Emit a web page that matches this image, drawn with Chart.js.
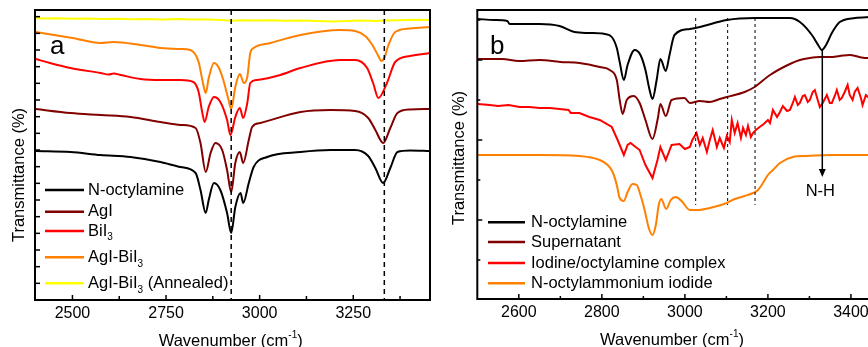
<!DOCTYPE html>
<html><head><meta charset="utf-8">
<script src="https://cdn.jsdelivr.net/npm/chart.js@4.4.1/dist/chart.umd.min.js"></script>
<style>
html,body{margin:0;padding:0;background:#fff;overflow:hidden;width:868px;height:347px;}
#wa{position:absolute;left:0;top:0;width:440px;height:347px;}
#wb{position:absolute;left:440px;top:0;width:440px;height:347px;}
</style></head><body>
<div id="wa"><canvas id="ca" width="440" height="347"></canvas></div>
<div id="wb"><canvas id="cb" width="440" height="347"></canvas></div>
<script>
// ---------- Panel a data: [wavenumber, transmittance (offset, a.u.)] ----------
const aOctylamine = [[2402,149],[2495,148],[2575,145],[2655,143],[2735,138],[2789,133],[2829,127],[2842,110],[2856,87],[2864,100],[2878,117],[2895,110],[2913,87],[2924,67],[2935,93],[2949,107],[2956,97],[2971,117],[2984,133],[3020,143],[3109,148],[3189,150],[3255,150],[3290,144],[3309,132],[3330,117],[3349,132],[3368,148],[3402,149.5],[3455,149]];
const aAgI = [[2402,191],[2495,187],[2575,185],[2655,183],[2735,178],[2789,175],[2829,172],[2842,157],[2856,128],[2869,147],[2882,157],[2900,150],[2913,130],[2924,108],[2935,137],[2947,148],[2956,137],[2971,160],[2980,173],[3002,177],[3109,188],[3189,190],[3255,189],[3290,182],[3309,170],[3330,157],[3349,172],[3368,187],[3402,190.5],[3455,191]];
const aBiI3 = [[2402,241],[2440,237],[2495,232],[2575,227],[2597,225.5],[2610,226.5],[2629,225],[2682,221],[2735,220],[2789,220],[2823,218],[2837,208],[2847,187],[2853,178],[2864,193],[2878,203],[2895,198],[2913,180],[2922,165],[2935,183],[2947,192],[2956,182],[2967,197],[2975,217],[2993,220],[3055,225],[3109,232],[3215,240],[3255,240],[3287,232],[3303,217],[3317,202],[3340,217],[3362,238],[3402,244],[3455,247]];
const aAgIBiI3 = [[2402,268],[2500,262],[2575,257],[2610,258],[2682,255],[2735,252],[2789,251],[2815,250],[2837,238],[2847,220],[2856,207],[2864,222],[2878,237],[2890,233],[2903,220],[2917,200],[2924,191],[2935,213],[2947,226],[2958,217],[2967,223],[2975,247],[2984,252],[3029,257],[3109,265],[3215,270],[3255,269],[3282,264],[3301,255],[3317,244],[3325,239],[3333,242],[3344,255],[3362,268],[3402,271.5],[3455,273]];
const aAnnealed = [[2402,281.7],[2430,281.5],[2460,281.8],[2500,281.3],[2540,281.6],[2580,281],[2620,281.3],[2660,280.8],[2700,281],[2740,280.6],[2780,280.9],[2820,280.4],[2860,280.6],[2900,280],[2924,279.3],[2950,279.8],[2990,279.5],[3030,279.8],[3070,279.2],[3110,279.5],[3150,278.9],[3197,278.4],[3230,279],[3270,279.4],[3310,279.1],[3333,279.5],[3370,279.8],[3410,280.2],[3455,280]];
const labelsA = ['N-octylamine','AgI','BiI_{3}','AgI-BiI_{3}','AgI-BiI_{3} (Annealed)'];
const colorsA = ['#000000','#800000','#ff0000','#ff8000','#ffff00'];
const majorTicksA = [2500,2750,3000,3250];
const minorTicksA = [2625,2875,3125,3375];
const dashLinesA = [2924,3333];

// ---------- Panel b data ----------
const bOctylamine = [[2501,280],[2541,279],[2572,278],[2578,275],[2650,275],[2698,273],[2734,267],[2770,266],[2807,265],[2824,262],[2836,251],[2843,237],[2853,219],[2862,234],[2879,249],[2893,244],[2905,229],[2915,209],[2922,200],[2932,219],[2941,240],[2954,228],[2963,244],[2975,264],[3012,270],[3036,272],[3101,279],[3168,281],[3253,281],[3277,277],[3306,264],[3321,254],[3330,249],[3340,254],[3354,266],[3373,277],[3410,281],[3450,282]];
const bSupernatant = [[2501,240],[2560,240],[2600,238],[2650,239],[2700,237],[2746,236],[2795,232],[2819,229],[2836,219],[2843,199],[2850,185],[2860,199],[2877,203],[2891,196],[2905,179],[2922,160],[2935,181],[2941,195],[2954,183],[2968,199],[2999,201],[3012,196],[3036,198],[3060,197],[3084,200],[3101,202],[3144,207],[3168,212],[3205,224],[3253,235],[3277,239],[3301,241],[3325,242],[3349,242],[3373,243],[3397,244],[3420,242],[3441,241],[3450,242]];
const bComplex = [[2501,195],[2530,194],[2550,193],[2575,194],[2602,192],[2625,192],[2650,191],[2675,191],[2698,190],[2720,189],[2725,186],[2746,186],[2770,182],[2795,179],[2824,172],[2838,159],[2853,144],[2862,154],[2869,156],[2891,149],[2905,134],[2922,121],[2934,139],[2941,152],[2954,139],[2968,154],[2987,155],[3000,150],[3012,152],[3018,159],[3028,166],[3036,154],[3043,161],[3053,147],[3060,159],[3067,169],[3077,152],[3084,161],[3094,151],[3101,163],[3108,157],[3113,179],[3120,166],[3127,176],[3135,161],[3140,171],[3147,164],[3152,173],[3159,162],[3164,166],[3171,169],[3180,172],[3190,175],[3200,179],[3205,176],[3212,189],[3222,182],[3229,187],[3236,193],[3246,188],[3253,189],[3260,196],[3265,202],[3272,194],[3277,196],[3284,203],[3289,204],[3296,197],[3301,199],[3308,207],[3313,209],[3320,199],[3325,192],[3332,196],[3342,204],[3349,196],[3354,196],[3361,203],[3366,209],[3373,199],[3378,201],[3385,207],[3392,214],[3397,204],[3404,199],[3409,207],[3416,211],[3424,201],[3428,194],[3436,204],[3441,202],[3450,199]];
const bAmmonium = [[2501,144],[2650,144],[2746,143],[2795,139],[2814,134],[2826,127],[2836,114],[2843,101],[2853,98],[2862,107],[2874,115],[2884,114],[2893,104],[2903,89],[2913,71],[2922,64],[2930,74],[2937,94],[2943,100],[2955,90],[2966,99],[2978,102],[2992,98],[3012,89],[3029,89],[3060,91],[3101,96],[3120,100],[3144,103],[3164,106],[3176,109],[3188,116],[3200,124],[3212,129],[3229,136],[3260,142],[3294,143],[3349,144],[3450,144]];
const labelsB = ['N-octylamine','Supernatant','Iodine/octylamine complex','N-octylammonium iodide'];
const colorsB = ['#000000','#800000','#ff0000','#ff8000'];
const majorTicksB = [2600,2800,3000,3200,3400];
const minorTicksB = [2700,2900,3100,3300];
const dashLinesB = [3026,3103,3169];
const nhPeak = [3331, 249, 122]; // wavenumber, arrow start, arrow end
const nhLabel = 'N-H';

const FONT = '"Liberation Sans", Arial, Helvetica, sans-serif';

function drawRich(ctx, str, x, y, size, align) {
  const parts = [];
  const re = /(_|\^)\{([^}]*)\}/g;
  let last = 0, m;
  while ((m = re.exec(str))) {
    if (m.index > last) parts.push({t: str.slice(last, m.index), k: 0});
    parts.push({t: m[2], k: m[1] === '_' ? 1 : -1});
    last = re.lastIndex;
  }
  if (last < str.length) parts.push({t: str.slice(last), k: 0});
  const small = Math.round(size * 0.58);
  const f = k => (k ? small : size) + 'px ' + FONT;
  let w = 0;
  for (const p of parts) { ctx.font = f(p.k); p.w = ctx.measureText(p.t).width; w += p.w; }
  let cx = align === 'center' ? x - w / 2 : x;
  ctx.textBaseline = 'middle'; ctx.textAlign = 'left'; ctx.fillStyle = '#000';
  for (const p of parts) {
    ctx.font = f(p.k);
    const dy = p.k === 1 ? size * 0.4 : (p.k === -1 ? -size * 0.35 : 0);
    ctx.fillText(p.t, cx, y + dy);
    cx += p.w;
  }
}

const deco = {
  id: 'deco',
  afterDatasetsDraw(chart, args, o) {
    const {ctx, chartArea: ca} = chart;
    const xs = chart.scales.x, ys = chart.scales.y;
    ctx.save();
    // dashed reference lines
    ctx.strokeStyle = '#000'; ctx.lineWidth = o.dashWidth; ctx.setLineDash(o.dash);
    for (const d of o.dashes) {
      const px = xs.getPixelForValue(d);
      const y0 = ca.top + (o.dashTopGap || 0);
      const y1 = o.dashBottom != null ? ys.getPixelForValue(o.dashBottom) : ca.bottom;
      ctx.beginPath(); ctx.moveTo(px, y0); ctx.lineTo(px, y1); ctx.stroke();
    }
    ctx.setLineDash([]);
    // arrow
    if (o.arrow) {
      const px = xs.getPixelForValue(o.arrow[0]);
      const y0 = ys.getPixelForValue(o.arrow[1]);
      const y1 = ys.getPixelForValue(o.arrow[2]);
      ctx.lineWidth = 1.5; ctx.strokeStyle = '#000';
      ctx.beginPath(); ctx.moveTo(px, y0); ctx.lineTo(px, y1 - 6); ctx.stroke();
      ctx.fillStyle = '#000';
      ctx.beginPath(); ctx.moveTo(px - 3.5, y1 - 8); ctx.lineTo(px + 3.5, y1 - 8); ctx.lineTo(px, y1); ctx.closePath(); ctx.fill();
      drawRich(ctx, o.arrowLabel, px - 2, y1 + 14, 16.5, 'center');
    }
    // frame
    ctx.lineWidth = 2; ctx.strokeStyle = '#000';
    ctx.strokeRect(ca.left, ca.top, ca.right - ca.left, ca.bottom - ca.top);
    // tick marks (inward)
    ctx.lineWidth = 1.5;
    for (const t of o.xMajor) { const px = xs.getPixelForValue(t); ctx.beginPath(); ctx.moveTo(px, ca.bottom); ctx.lineTo(px, ca.bottom - 5); ctx.stroke(); }
    for (const t of o.xMinor) { const px = xs.getPixelForValue(t); ctx.beginPath(); ctx.moveTo(px, ca.bottom); ctx.lineTo(px, ca.bottom - o.minorLen); ctx.stroke(); }
    for (const t of o.yTicks) { const py = ys.getPixelForValue(t[0]); ctx.beginPath(); ctx.moveTo(ca.left, py); ctx.lineTo(ca.left + t[1], py); ctx.stroke(); }
    // panel letter
    ctx.fillStyle = '#000'; ctx.font = '26px ' + FONT; ctx.textAlign = 'left'; ctx.textBaseline = 'alphabetic';
    ctx.fillText(o.letter, o.letterPos[0], o.letterPos[1]);
    // legend
    o.labels.forEach((lab, i) => {
      const y = o.legendY[i];
      ctx.strokeStyle = o.colors[i]; ctx.lineWidth = 2.5;
      ctx.beginPath(); ctx.moveTo(o.legendX[0], y); ctx.lineTo(o.legendX[1], y); ctx.stroke();
      drawRich(ctx, lab, o.legendX[2], y, 16.5, 'left');
    });
    // axis titles
    drawRich(ctx, 'Wavenumber (cm^{-1})', o.xTitle[0], o.xTitle[1], 16.5, 'center');
    ctx.save(); ctx.translate(o.yTitle[0], o.yTitle[1]); ctx.rotate(-Math.PI / 2);
    drawRich(ctx, 'Transmittance (%)', 0, 0, 16.5, 'center');
    ctx.restore();
    ctx.restore();
  }
};

function ds(arr, color, smooth) {
  return {data: arr.map(([x, y]) => ({x, y})), borderColor: color, borderWidth: 2, pointRadius: 0, fill: false,
          tension: smooth ? 0.4 : 0, cubicInterpolationMode: smooth ? 'monotone' : 'default'};
}

function makeChart(id, datasets, o) {
  return new Chart(document.getElementById(id), {
    type: 'line',
    data: {datasets},
    plugins: [deco],
    options: {
      responsive: false, animation: false, devicePixelRatio: 1,
      layout: {padding: o.padding},
      plugins: {legend: {display: false}, tooltip: {enabled: false}, deco: o.deco},
      scales: {
        x: {type: 'linear', min: o.xmin, max: o.xmax,
            grid: {display: false, drawTicks: false}, border: {display: false},
            afterBuildTicks: s => { s.ticks = o.deco.xMajor.map(v => ({value: v})); },
            afterFit: s => { s.height = o.xh; },
            ticks: {padding: 4, color: '#000', font: {family: FONT, size: 16}, callback: v => String(v)}},
        y: {type: 'linear', min: 0, max: o.ymax,
            grid: {display: false, drawTicks: false}, border: {display: false},
            ticks: {display: false},
            afterFit: s => { s.width = o.yw; }}
      }
    }
  });
}

// y tick marks
const yTicksA = [];
for (let i = 1; i <= 17; i++) yTicksA.push([i * 290 / 17.4, 5]);
const yTicksB = [[39,3],[79,5],[119,3],[159,5],[199,3],[239,5],[279,3]];

makeChart('ca', [
  ds(aOctylamine, colorsA[0], true), ds(aAgI, colorsA[1], true), ds(aBiI3, colorsA[2], true),
  ds(aAgIBiI3, colorsA[3], true), ds(aAnnealed, colorsA[4], false)
], {
  padding: {left: 0, top: 10, right: 10, bottom: 0}, xmin: 2400, xmax: 3455, ymax: 290, xh: 47, yw: 35,
  deco: {dashes: dashLinesA, dash: [5, 4], dashWidth: 1.5, xMajor: majorTicksA, xMinor: minorTicksA, minorLen: 4,
         yTicks: yTicksA, letter: 'a', letterPos: [50, 53.5],
         labels: labelsA, colors: colorsA, legendY: [190, 211.7, 231, 257.3, 283.3], legendX: [45, 84, 88],
         xTitle: [230.7, 341], yTitle: [19.5, 175]}
});

makeChart('cb', [
  ds(bOctylamine, colorsB[0], true), ds(bSupernatant, colorsB[1], true), ds(bComplex, colorsB[2], false),
  ds(bAmmonium, colorsB[3], true)
], {
  padding: {left: 0, top: 10, right: 8.3, bottom: 0}, xmin: 2500, xmax: 3450, ymax: 289, xh: 48, yw: 37.3,
  deco: {dashes: dashLinesB, dash: [3, 3], dashWidth: 1, dashBottom: 94, dashTopGap: 8,
         arrow: nhPeak, arrowLabel: nhLabel,
         xMajor: majorTicksB, xMinor: minorTicksB, minorLen: 3,
         yTicks: yTicksB, letter: 'b', letterPos: [50, 53.5],
         labels: labelsB, colors: colorsB, legendY: [222.3, 242, 263, 283.3], legendX: [48, 85, 91],
         xTitle: [232, 340], yTitle: [19.5, 158]}
});
</script>
</body></html>
